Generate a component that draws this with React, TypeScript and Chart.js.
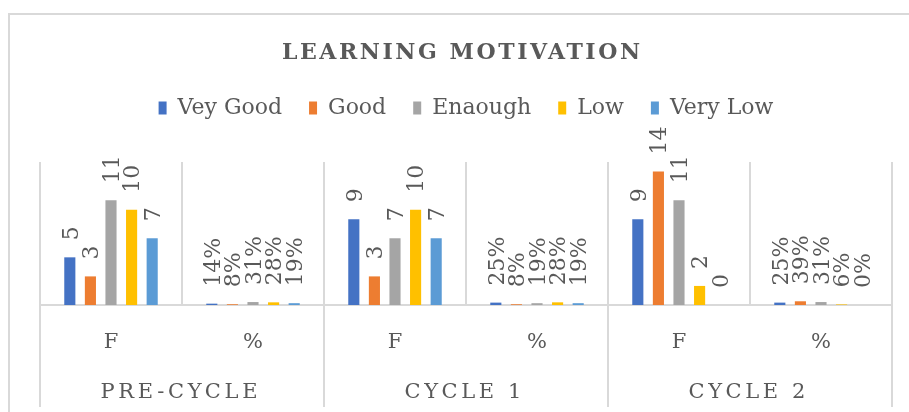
import React, { useEffect, useRef } from 'react';
import { Chart, registerables } from 'chart.js';

Chart.register(...registerables);

const categories = ['F', '%', 'F', '%', 'F', '%'];
const groups = ['PRE-CYCLE', 'CYCLE 1', 'CYCLE 2'];
const seriesNames = ['Vey Good', 'Good', 'Enaough', 'Low', 'Very Low'];
const veyGood = [5, 0.14, 9, 0.25, 9, 0.25];
const good = [3, 0.08, 3, 0.08, 14, 0.39];
const enaough = [11, 0.31, 7, 0.19, 11, 0.31];
const low = [10, 0.28, 10, 0.28, 2, 0.06];
const veryLow = [7, 0.19, 7, 0.19, 0, 0];
const seriesValues = [veyGood, good, enaough, low, veryLow];
const colors = ['#4472C4', '#ED7D31', '#A5A5A5', '#FFC000', '#5B9BD5'];
const titleText = 'LEARNING MOTIVATION';
const yMax = 15;

const FONT = "'DejaVu Serif', serif";
const TEXT = '#595959';
const GRID = '#d9d9d9';

function spacedText(ctx: CanvasRenderingContext2D, text: string, cx: number, y: number, targetWidth: number | null, spacing: number) {
  (ctx as any).letterSpacing = '0px';
  const w = ctx.measureText(text).width;
  const sp = targetWidth != null ? (targetWidth - w) / (text.length - 1) : spacing;
  (ctx as any).letterSpacing = sp + 'px';
  ctx.textAlign = 'left';
  const total = w + sp * (text.length - 1);
  ctx.fillText(text, cx - total / 2, y);
  (ctx as any).letterSpacing = '0px';
  return sp;
}

const framePlugin = {
  id: 'frameAndTitle',
  beforeDraw(chart: any) {
    const ctx = chart.ctx as CanvasRenderingContext2D;
    ctx.save();
    ctx.fillStyle = '#ffffff';
    ctx.fillRect(0, 0, chart.width, chart.height);
    ctx.strokeStyle = GRID;
    ctx.lineWidth = 2;
    ctx.strokeRect(9, 14, chart.width + 50, chart.height + 50);
    ctx.fillStyle = TEXT;
    ctx.font = `bold 22px ${FONT}`;
    ctx.textBaseline = 'alphabetic';
    spacedText(ctx, titleText, 461, 59, 358, 0);
    ctx.restore();
  },
};

const labelPlugin = {
  id: 'barLabels',
  afterDatasetsDraw(chart: any) {
    const ctx = chart.ctx as CanvasRenderingContext2D;
    ctx.save();
    ctx.fillStyle = TEXT;
    ctx.font = `22px ${FONT}`;
    ctx.textAlign = 'left';
    ctx.textBaseline = 'middle';
    chart.data.datasets.forEach((ds: any, di: number) => {
      const meta = chart.getDatasetMeta(di);
      meta.data.forEach((el: any, i: number) => {
        const v = ds.data[i] as number;
        const txt = i % 2 === 0 ? String(v) : Math.round(v * 100) + '%';
        ctx.save();
        ctx.translate(el.x + 2, el.y - 17);
        ctx.rotate(-Math.PI / 2);
        ctx.fillText(txt, 0, 0);
        ctx.restore();
      });
    });
    ctx.restore();
  },
};

const groupLabelPlugin = {
  id: 'groupLabels',
  afterDraw(chart: any) {
    const scale = chart.scales.x2;
    const ctx = chart.ctx as CanvasRenderingContext2D;
    ctx.save();
    ctx.fillStyle = TEXT;
    ctx.font = `21px ${FONT}`;
    ctx.textBaseline = 'alphabetic';
    const labels = scale.getLabels();
    (ctx as any).letterSpacing = '0px';
    const w0 = ctx.measureText(labels[0]).width;
    const sp = (157 - w0) / (labels[0].length - 1);
    labels.forEach((lab: string, i: number) => {
      const x = scale.getPixelForTick(i) - 3;
      spacedText(ctx, lab, x, 398, null, sp);
    });
    ctx.restore();
  },
};

export default function App() {
  const ref = useRef<HTMLCanvasElement>(null);
  useEffect(() => {
    const chart = new Chart(ref.current as HTMLCanvasElement, {
      type: 'bar',
      data: {
        labels: categories,
        datasets: seriesNames.map((name, i) => ({
          label: name,
          data: seriesValues[i],
          backgroundColor: colors[i],
          borderWidth: 0,
          categoryPercentage: 0.725,
          barPercentage: 0.54,
        })),
      },
      options: {
        responsive: false,
        animation: false,
        devicePixelRatio: 1,
        layout: { padding: { top: 70, left: 40, right: 17, bottom: 5 } },
        plugins: {
          title: { display: false },
          tooltip: { enabled: false },
          legend: {
            position: 'top',
            align: 'center',
            labels: {
              color: TEXT,
              font: { family: FONT, size: 22 },
              boxWidth: 8,
              boxHeight: 13,
              padding: 27,
            },
          },
        },
        scales: {
          x: {
            type: 'category',
            position: 'bottom',
            weight: 0,
            offset: true,
            grid: {
              offset: true,
              color: GRID,
              lineWidth: 2,
              drawTicks: true,
              tickLength: 50,
              tickWidth: 2,
              tickColor: (c: any) =>
                c.index === undefined || c.index % 2 === 0 ? GRID : 'rgba(0,0,0,0)',
            },
            border: { display: true, color: GRID, width: 2 },
            ticks: {
              color: TEXT,
              font: { family: FONT, size: 21 },
              padding: -25,
              maxRotation: 0,
              autoSkip: false,
            },
            afterFit: (s: any) => {
              s.height = 50;
            },
          },
          x2: {
            type: 'category',
            labels: groups,
            position: 'bottom',
            weight: 1,
            offset: true,
            grid: {
              offset: true,
              drawOnChartArea: false,
              color: GRID,
              lineWidth: 2,
              tickLength: 52,
            },
            border: { display: false },
            ticks: { display: false },
            afterFit: (s: any) => {
              s.height = 52;
            },
          },
          xTop: {
            type: 'category',
            labels: groups,
            position: 'top',
            grid: { display: false },
            border: { display: false },
            ticks: { display: false },
            afterFit: (s: any) => {
              s.height = 33;
            },
          },
          y: {
            display: false,
            min: 0,
            max: yMax,
          },
        },
      } as any,
      plugins: [framePlugin, labelPlugin, groupLabelPlugin],
    });
    return () => chart.destroy();
  }, []);
  return (
    <div style={{ position: 'fixed', left: 0, top: 0, width: 909, height: 412, background: '#fff', overflow: 'hidden' }}>
      <canvas ref={ref} width={909} height={412} style={{ display: 'block' }} />
    </div>
  );
}
